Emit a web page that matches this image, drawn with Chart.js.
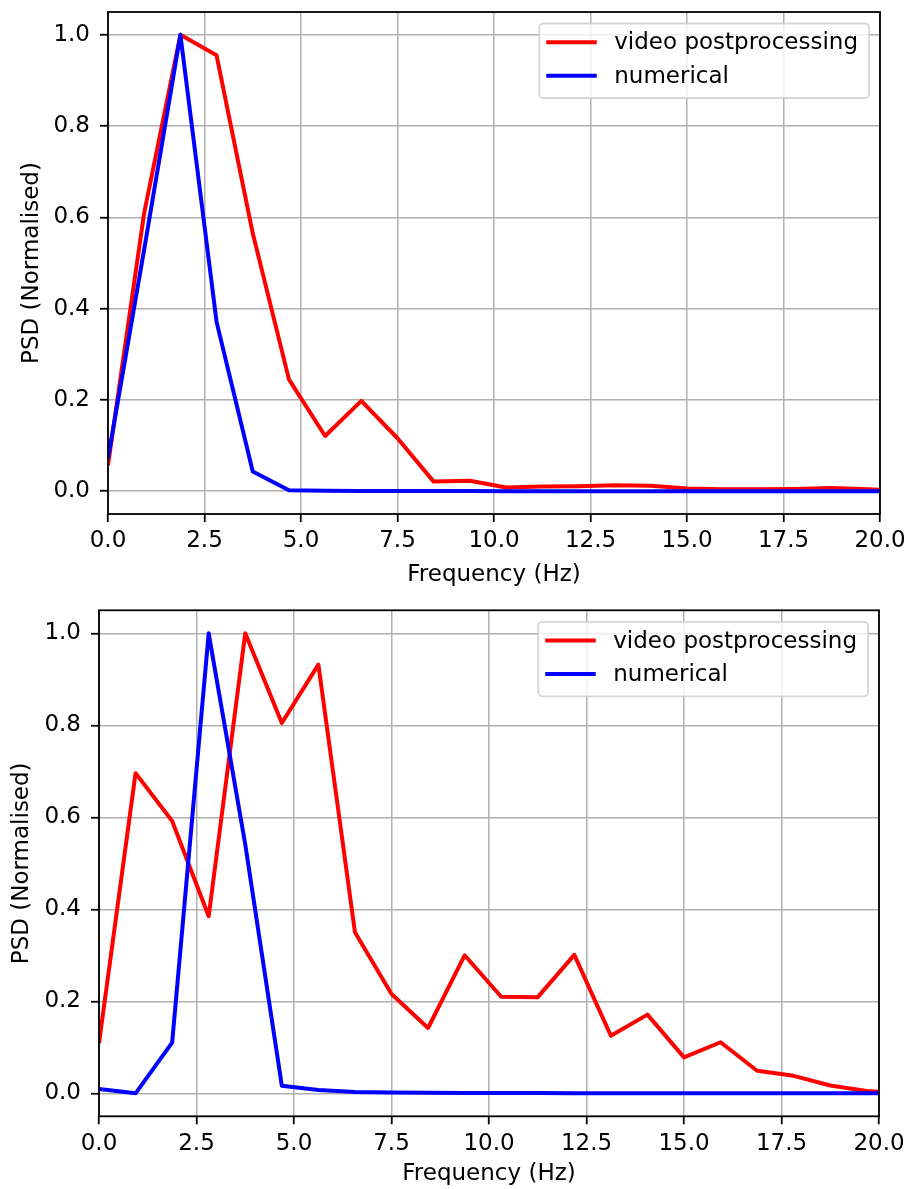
<!DOCTYPE html>
<html>
<head>
<meta charset="utf-8">
<title>PSD comparison</title>
<script src="https://cdn.jsdelivr.net/npm/chart.js@4/dist/chart.umd.min.js"></script>
<style>
  html, body { margin: 0; padding: 0; background: #fff; }
  canvas { display: block; }
</style>
</head>
<body>
<canvas id="topChart" width="913" height="595"></canvas>
<canvas id="bottomChart" width="913" height="594"></canvas>
<script>
// Frequency bins (Hz)
const freqHz = [0, 0.9375, 1.875, 2.8125, 3.75, 4.6875, 5.625, 6.5625, 7.5, 8.4375, 9.375,
  10.3125, 11.25, 12.1875, 13.125, 14.0625, 15, 15.9375, 16.875, 17.8125, 18.75, 19.6875, 20.625];

// Upper plot
const topVideo = [0.057, 0.61, 1.0, 0.955, 0.565, 0.245, 0.121, 0.198, 0.116, 0.021, 0.023,
  0.008, 0.010, 0.011, 0.013, 0.012, 0.006, 0.004, 0.004, 0.005, 0.007, 0.004, 0.002];
const topNumerical = [0.072, 0.53, 1.0, 0.371, 0.043, 0.002, 0.001, 0.0005, 0.0003, 0.0002, 0.0002,
  0.0001, 0.0001, 0.0001, 0.0001, 0.0001, 0.0001, 0.0001, 0.0001, 0.0001, 0.0001, 0.0001, 0.0001];

// Lower plot
const bottomVideo = [0.109, 0.696, 0.592, 0.385, 1.0, 0.805, 0.932, 0.35, 0.216, 0.142, 0.30,
  0.21, 0.209, 0.301, 0.125, 0.171, 0.078, 0.111, 0.049, 0.038, 0.017, 0.005, 0.0];
const bottomNumerical = [0.0094, 0.0, 0.11, 1.0, 0.541, 0.0166, 0.0072, 0.003, 0.0015, 0.001, 0.0007,
  0.0005, 0.0004, 0.0003, 0.0003, 0.0002, 0.0002, 0.0002, 0.0001, 0.0001, 0.0001, 0.0001, 0.0001];

const xTicks = [0, 2.5, 5, 7.5, 10, 12.5, 15, 17.5, 20];
const yTicks = [0, 0.2, 0.4, 0.6, 0.8, 1.0];
const seriesLabels = ['video postprocessing', 'numerical'];
const seriesColors = ['#ff0000', '#0000ff'];
const lineW = 4;

Chart.defaults.font.family = "'DejaVu Sans', sans-serif";
Chart.defaults.font.size = 23;
Chart.defaults.color = '#000';

// axes frame on all four sides + legend box in the upper right corner
const frameAndLegend = {
  id: 'frameAndLegend',
  afterDatasetsDraw(chart) {
    const { ctx, chartArea: a } = chart;
    ctx.save();
    ctx.strokeStyle = '#000';
    ctx.lineWidth = 1.8;
    ctx.strokeRect(a.left, a.top, a.right - a.left, a.bottom - a.top);

    ctx.font = "23px 'DejaVu Sans'";
    const sets = chart.data.datasets;
    const textW = Math.max(...sets.map(d => ctx.measureText(d.label).width));
    const w = 75 + textW + 11;
    const h = 74.5;
    const x = a.right - 11 - w;
    const y = a.top + 11.5;
    ctx.beginPath();
    ctx.roundRect(x, y, w, h, 4);
    ctx.fillStyle = 'rgba(255,255,255,0.8)';
    ctx.fill();
    ctx.strokeStyle = 'rgba(204,204,204,0.8)';
    ctx.lineWidth = 1.8;
    ctx.stroke();

    sets.forEach((d, i) => {
      const cy = y + 18.7 + i * 33.5;
      ctx.strokeStyle = d.borderColor;
      ctx.lineWidth = lineW;
      ctx.beginPath();
      ctx.moveTo(x + 7, cy);
      ctx.lineTo(x + 57.5, cy);
      ctx.stroke();
      ctx.fillStyle = '#000';
      ctx.textBaseline = 'middle';
      ctx.fillText(d.label, x + 75, cy + 1.2);
    });
    ctx.restore();
  }
};

function buildChart(id, video, numerical, cfg) {
  const toPoints = vals => freqHz.map((f, i) => ({ x: f, y: vals[i] }));
  return new Chart(document.getElementById(id), {
    type: 'line',
    data: {
      datasets: [video, numerical].map((vals, i) => ({
        label: seriesLabels[i],
        data: toPoints(vals),
        borderColor: seriesColors[i],
        borderWidth: lineW,
        borderJoinStyle: 'round',
        pointRadius: 0,
        tension: 0,
        fill: false,
        order: 1 - i
      }))
    },
    options: {
      responsive: false,
      animation: false,
      layout: { padding: { top: cfg.top, right: cfg.right, left: 0, bottom: 0 } },
      plugins: { legend: { display: false }, tooltip: { enabled: false } },
      scales: {
        x: {
          type: 'linear',
          min: 0,
          max: 20,
          afterBuildTicks: s => { s.ticks = xTicks.map(v => ({ value: v })); },
          afterFit: s => { s.height = cfg.xAxisH; s.paddingLeft = 0; s.paddingRight = 0; },
          ticks: { callback: v => v.toFixed(1), padding: 5.5, maxRotation: 0, autoSkip: false },
          grid: { color: '#b0b0b0', lineWidth: 1.5, tickColor: '#000', tickLength: 8, tickWidth: 1.8 },
          border: { display: false },
          title: { display: true, text: 'Frequency (Hz)', padding: { top: 0, bottom: cfg.xTitlePad } }
        },
        y: {
          min: -0.05,
          max: 1.05,
          afterBuildTicks: s => { s.ticks = yTicks.map(v => ({ value: v })); },
          afterFit: s => { s.width = cfg.yAxisW; s.paddingTop = 0; s.paddingBottom = 0; },
          ticks: { callback: v => v.toFixed(1), padding: 10 },
          grid: { color: '#b0b0b0', lineWidth: 1.5, tickColor: '#000', tickLength: 8, tickWidth: 1.8 },
          border: { display: false },
          title: { display: true, text: 'PSD (Normalised)', padding: { top: cfg.yTitlePad, bottom: 0 } }
        }
      }
    },
    plugins: [frameAndLegend]
  });
}

buildChart('topChart', topVideo, topNumerical,
  { top: 12, right: 33, yAxisW: 108, xAxisH: 81, xTitlePad: 6.5, yTitlePad: 18 });
buildChart('bottomChart', bottomVideo, bottomNumerical,
  { top: 15.3, right: 34, yAxisW: 99, xAxisH: 72.7, xTitlePad: 1.5, yTitlePad: 8 });
</script>
</body>
</html>
